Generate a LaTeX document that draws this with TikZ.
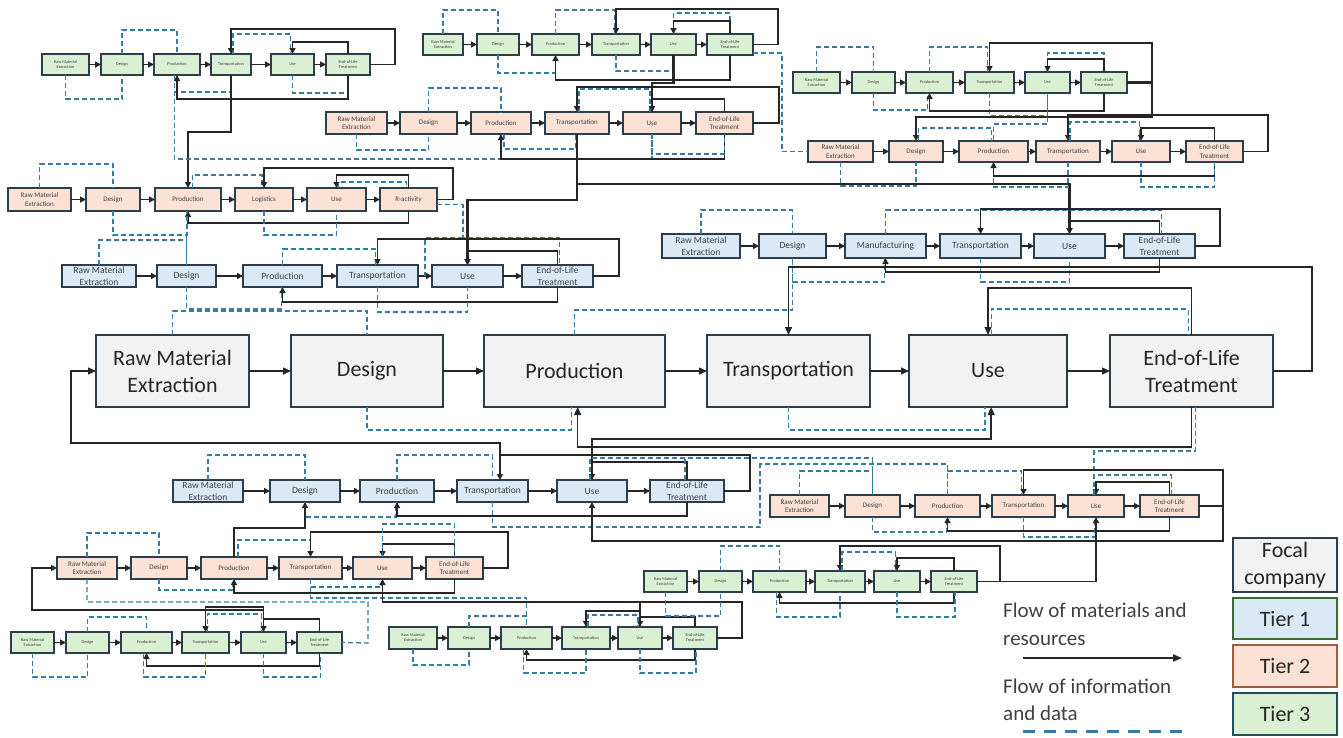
\documentclass[tikz,border=0pt]{standalone}
\usepackage{fontspec}
\setmainfont{Carlito}
\usetikzlibrary{arrows.meta,calc}
\definecolor{focfill}{RGB}{242,242,242}
\definecolor{tonefill}{RGB}{219,232,246}
\definecolor{ttwofill}{RGB}{251,226,213}
\definecolor{tthreefill}{RGB}{217,240,211}
\definecolor{bord}{RGB}{44,62,75}
\definecolor{dcol}{RGB}{52,125,160}
\definecolor{txt}{RGB}{64,64,64}
\definecolor{tonebord}{RGB}{60,110,50}
\definecolor{ttwobord}{RGB}{160,90,60}
\definecolor{tthreebord}{RGB}{30,80,95}
\tikzset{
 box/.style={draw=bord, line width=1.6pt, inner sep=0.5pt, outer sep=0pt, align=center, text=txt},
 tthree/.style={box, fill=tthreefill, font=\fontsize{4.3}{5}\selectfont, line width=1.4pt},
 ttwo/.style={box, fill=ttwofill, font=\fontsize{7}{8.5}\selectfont},
 tone/.style={box, fill=tonefill, font=\fontsize{9.5}{11.5}\selectfont},
 foc/.style={box, fill=focfill, font=\fontsize{22}{27}\selectfont, text=black!85, line width=1.8pt},
 ml/.style={draw=black!85, line width=1.4pt},
 mt/.style={draw=black!85, line width=2.2pt},
 tip/.style={-{Triangle[length=6pt,width=6pt]}},
 bigtip/.style={-{Triangle[length=8pt,width=7pt]}},
 dl/.style={draw=dcol, line width=1.3pt, dash pattern=on 5pt off 3pt},
}
\newcommand{\bx}[7]{\node[#2, minimum width={#4-#3}, minimum height={#6-#5}] (#1) at ({(#3+#4)/2},{(#5+#6)/2}) {#7};}
\newcommand{\chain}[6][tip]{%
 \foreach \n/\xa/\xb/\lab in {#6} {\bx{#2\n}{#3}{\xa}{\xb}{#4}{#5}{\lab}}
 \foreach \i/\j in {1/2,2/3,3/4,4/5,5/6} {\draw[ml,#1] (#2\i) -- (#2\j);}
}
\newcommand{\hv}[4][]{\draw[#1] (#2) -- (#2 |- 0,#4) -| (#3);}
\begin{document}
\begin{tikzpicture}[x=1pt,y=-1pt]
\useasboundingbox (0,0) rectangle (1343,737);
\fill[white] (0,0) rectangle (1343,737);

% ---------------- boxes ----------------
\chain{a}{tthree}{54}{75}{1/42/89/{Raw Material\\Extraction},2/101/143/Design,3/154/200/Production,4/211/251/Transportation,5/271/314/Use,6/326/370/{End-of-Life\\Treatment}}
\chain{b}{tthree}{34}{55}{1/423/463/{Raw Material\\Extraction},2/477/519/Design,3/532/579/Production,4/592/640/Transportation,5/651/696/Use,6/707/753/{End-of-Life\\Treatment}}
\chain{e}{tthree}{72}{93}{1/793/840/{Raw Material\\Extraction},2/852/895/Design,3/906/953/Production,4/965/1014/Transportation,5/1025/1070/Use,6/1081/1127/{End-of-Life\\Treatment}}
\chain{d}{ttwo}{112}{134}{1/326/387/{Raw Material\\Extraction},2/400/457/Design,3/471/531/Production,4/545/609/Transportation,5/623/681/Use,6/696/753/{End-of-Life\\Treatment}}
\chain{f}{ttwo}{141}{162}{1/808/873/{Raw Material\\Extraction},2/889/943/Design,3/959/1028/Production,4/1036/1100/Transportation,5/1112/1170/Use,6/1186/1243/{End-of-Life\\Treatment}}
\chain{c}{ttwo}{188}{211}{1/8/71/{Raw Material\\Extraction},2/86/140/Design,3/155/221/Production,4/235/293/Logistics,5/307/366/Use,6/380/437/R-activity}
\chain{g}{tone}{265}{287}{1/62/136/{Raw Material\\Extraction},2/157/216/Design,3/243/322/Production,4/337/418/Transportation,5/432/503/Use,6/522/593/{End-of-Life\\Treatment}}
\chain{h}{tone}{234}{258}{1/662/740/{Raw Material\\Extraction},2/759/826/Design,3/845/926/Manufacturing,4/940/1021/Transportation,5/1034/1105/Use,6/1124/1195/{End-of-Life\\Treatment}}
\chain[bigtip]{F}{foc}{335}{407}{1/96/249/{Raw Material\\Extraction},2/291/443/Design,3/484/665/Production,4/707/870/Transportation,5/909/1067/Use,6/1110/1273/{End-of-Life\\Treatment}}
\chain{i}{tone}{480}{502}{1/173/243/{Raw Material\\Extraction},2/270/340/Design,3/360/434/Production,4/457/528/Transportation,5/557/627/Use,6/650/724/{End-of-Life\\Treatment}}
\chain{j}{ttwo}{495}{517}{1/770/829/{Raw Material\\Extraction},2/845/900/Design,3/915/980/Production,4/992/1055/Transportation,5/1068/1124/Use,6/1140/1199/{End-of-Life\\Treatment}}
\chain{k}{ttwo}{557}{579}{1/57/117/{Raw Material\\Extraction},2/131/187/Design,3/201/267/Production,4/279/342/Transportation,5/353/412/Use,6/426/483/{End-of-Life\\Treatment}}
\chain{l}{tthree}{632}{653}{1/11/54/{Raw Material\\Extraction},2/66/109/Design,3/121/172/Production,4/182/229/Transportation,5/241/286/Use,6/297/342/{End-of-Life\\Treatment}}
\chain{m}{tthree}{627}{649}{1/389/437/{Raw Material\\Extraction},2/448/490/Design,3/501/552/Production,4/562/610/Transportation,5/618/662/Use,6/673/717/{End-of-Life\\Treatment}}
\chain{n}{tthree}{571}{592}{1/644/687/{Raw Material\\Extraction},2/699/742/Design,3/753/806/Production,4/815/865/Transportation,5/874/920/Use,6/931/977/{End-of-Life\\Treatment}}

% ---------------- T3a ----------------
\hv[dl]{a1.south}{a2.south}{99}
\hv[dl]{a2.north}{a3.north}{30}
\hv[dl]{a3.255}{a4.south}{92}
\hv[dl]{a4.80}{a5.100}{34}
\hv[dl]{a5.south}{a6.south}{93}
\draw[ml,tip] (a6.north) -- (a6.north |- 0,42) -| (a5.north);
\draw[ml,tip] (a6.east) -| (395,29) -| (a4.north);
\draw[ml,tip] (a6.south) -- (a6.south |- 0,99) -| (a3.south);
\draw[mt,tip] (a4.south) -- (a4.south |- 0,132) -| (c3.north);
\draw[dl] (a3.255) -- (a3.255 |- 0,159) -| (d5.south);

% ---------------- T3b ----------------
\hv[dl]{b1.north}{b2.north}{10}
\hv[dl]{b2.south}{b3.south}{73}
\hv[dl]{b3.north}{b4.100}{10}
\draw[ml,tip] (b6.east) -| (778,9) -| (b4.north);
\hv[dl]{b5.north}{b6.north}{13}
\draw[ml,tip] (b6.north) -- (b6.north |- 0,21) -| (b5.north);
\hv[dl]{b4.south}{b5.south}{71}
\draw[ml,tip] (b6.south) -- (b6.south |- 0,80) -| (b3.south);
\draw[mt,tip] (b5.south) -- (b5.south |- 0,83) -| (d5.north);
\draw[dl] (b6.-20) -| (782,151) |- (f1.west);

% ---------------- T2a ----------------
\hv[dl]{d1.south}{d2.south}{150}
\hv[dl]{d2.north}{d3.north}{88}
\hv[dl]{d4.80}{d5.100}{89}
\draw[ml,tip] (d6.east) -| (779,87) -| (d4.north);
\draw[ml,tip] (d6.north) -- (d6.north |- 0,99) -| (d5.north);
\hv[dl]{d3.285}{d4.265}{149}
\draw[ml,tip] (d6.south) -- (d6.south |- 0,159) -| (d3.south);
\hv[dl]{d5.south}{d6.south}{154}
\draw[mt,tip] (d4.south) -- (d4.south |- 0,184) -| (h5.north);
\draw[mt,tip] (d4.south) -- (d4.south |- 0,200) -| (g5.north);

% ---------------- T3c ----------------
\hv[dl]{e1.north}{e2.north}{47}
\hv[dl]{e2.south}{e3.260}{110}
\hv[dl]{e3.north}{e4.100}{47}
\draw[ml,tip] (e6.east) -| (1152,43) -| (e4.north);
\hv[dl]{e5.north}{e6.north}{53}
\draw[ml,tip] (e6.north) -- (e6.north |- 0,59) -| (e5.north);
\hv[dl]{e4.south}{e5.south}{116}
\draw[ml,tip] (e6.south) -- (e6.south |- 0,111) -| (e3.south);
\draw[mt,tip] (e6.east) -| (1152,117) -| (f2.north);
\draw[dl] (e5.south) -- (e5.south |- 0,124) -| (f3.north);

% ---------------- T2b ----------------
\hv[dl]{f2.75}{f3.100}{128}
\draw[ml,tip] (f6.east) -| (1268,115) -| (f4.north);
\hv[dl]{f4.80}{f5.100}{122}
\draw[ml,tip] (f6.north) -- (f6.north |- 0,128) -| (f5.north);
\hv[dl]{f1.south}{f2.south}{186}
\hv[dl]{f3.south}{f4.south}{187}
\draw[ml,tip] (f6.south) -- (f6.south |- 0,176) -| (f3.south);
\hv[dl]{f5.south}{f6.south}{187}

% ---------------- T2c ----------------
\hv[dl]{c1.north}{c2.north}{164}
\hv[dl]{c3.70}{c4.100}{175}
\draw[ml,tip] (c6.east) -| (453,168) -| (c4.north);
\draw[ml,tip] (c6.north) -- (c6.north |- 0,175) -| (c5.north);
\hv[dl]{c5.80}{c6.100}{182}
\draw[ml,tip] (c6.south) -- (c6.south |- 0,223) -| (c3.south);
\hv[dl]{c2.south}{c3.265}{235}
\hv[dl]{c4.south}{c5.south}{235}
\coordinate (g45) at ($(g4.east)!.5!(g5.west)$);
\draw[dl] (c6.-10) -| (463,238) -| (g6.80);
\draw[dl] (463,238) -| (g45);

% ---------------- T1a ----------------
\draw[dl] (g1.north) -- (g1.north |- 0,240) -| (g2.north);
\draw[dl] (g2.north) -- (g2.north |- 0,235);
\hv[dl]{g3.north}{g4.100}{249}
\draw[ml,tip] (g6.east) -| (619,239) -| (g4.north);
\draw[ml,tip] (g6.north) -- (g6.north |- 0,251) -| (g5.north);
\draw[ml,tip] (g6.south) -- (g6.south |- 0,302) -| (g3.south);
\hv[dl]{g4.south}{g5.south}{312}
\hv[dl]{g2.south}{g3.265}{309}
\hv[dl]{F1.north}{F2.north}{311}
\hv[dl]{F3.north}{h2.south}{310}

% ---------------- T1b ----------------
\hv[dl]{h1.north}{h2.north}{210}
\hv[dl]{h2.south}{h3.265}{282}
\hv[dl]{h3.north}{h6.80}{210}
\draw[ml,tip] (h6.east) -| (1220,209) -| (h4.north);
\draw[ml,tip] (h6.north) -- (h6.north |- 0,221) -| (h5.north);
\hv[dl]{h4.south}{h5.south}{282}
\draw[ml,tip] (h6.south) -- (h6.south |- 0,272) -| (h3.south);

% ---------------- Focal ----------------
\draw[ml,bigtip] (F6.east) -| (1312,267) -| (F4.north);
\draw[ml,bigtip] (F6.north) -- (F6.north |- 0,288) -| (F5.north);
\hv[dl]{F5.85}{F6.95}{309}
\hv[dl]{F2.south}{F3.265}{430}
\hv[dl]{F4.south}{F5.265}{430}
\draw[ml,bigtip] (F6.south) -- (F6.south |- 0,447) -| (F3.275);
\draw[ml,tip] (i6.north) -- (i6.north |- 0,462) -| (i5.north);
\draw[ml,bigtip] (i5.north |- 0,462) -- (i5.north |- 0,439) -| (F5.275);
\draw[ml,tip] (i6.east) -| (750,455) -| (i4.56);
\draw[ml,bigtip] (i4.56 |- 0,455) |- (71,443) |- (F1.west);
\draw[dl] (F6.-84) -- (F6.-84 |- 0,451) -| (j5.100);

% ---------------- T1c ----------------
\hv[dl]{i1.north}{i2.north}{455}
\hv[dl]{i3.north}{i4.north}{455}
\draw[dl] (i5.100) -- (i5.100 |- 0,458) -| (j2.north);
\draw[dl] (i6.100) -- (i6.100 |- 0,458);
\hv[dl]{i2.south}{i3.265}{517}
\draw[ml,tip] (i6.south) -- (i6.south |- 0,516) -| (i3.south);
\draw[dl] (i4.south) -- (i4.south |- 0,527) -| (760,464) -| (j3.north);

% ---------------- T2d ----------------
\hv[dl]{j1.north}{j2.north}{471}
\hv[dl]{j3.north}{j4.100}{471}
\draw[ml,tip] (j6.east) -| (1223,470) -| (j4.north);
\draw[ml,tip] (j6.north) -- (j6.north |- 0,482) -| (j5.north);
\hv[dl]{j5.100}{j6.80}{475}
\hv[dl]{j2.south}{j3.265}{532}
\draw[ml,tip] (j6.south) -- (j6.south |- 0,531) -| (j3.south);
\hv[dl]{j4.south}{j5.265}{537}
\draw[ml,tip] (j6.east) -| (1223,541) -| (i5.south);
\draw[ml,tip] (n6.east) -| (j5.south);

% ---------------- T2e ----------------
\hv[dl]{k1.north}{k2.north}{533}
\hv[dl]{k3.70}{k4.north}{540}
\draw[ml,tip] (k6.east) -| (508,532) -| (k4.north);
\draw[ml,tip] (k6.north) -- (k6.north |- 0,544) -| (k5.north);
\hv[dl]{k5.north}{k6.north}{524}
\hv[dl]{k2.south}{k3.265}{590}
\draw[ml,tip] (k6.south) -- (k6.south |- 0,593) -| (k3.south);
\hv[dl]{k4.south}{k5.265}{587}
\draw[dl] (k4.south) -- (k4.south |- 0,598) -| (m3.north);
\draw[mt,tip] (k3.north) -- (k3.north |- 0,528) -| (i2.south);
\draw[dl] (k1.south) -- (k1.south |- 0,602) -| (368,643) -- (l6.east);

% ---------------- T3d ----------------
\hv[dl]{l1.south}{l2.south}{677}
\hv[dl]{l2.north}{l3.north}{617}
\hv[dl]{l4.80}{l5.100}{614}
\draw[ml,tip] (l6.north) -- (l6.north |- 0,619) -| (l5.north);
\draw[ml] (l5.north |- 0,619) -- (l5.north |- 0,607);
\draw[ml,tip] (l5.north |- 0,607) -| (l4.north);
\draw[ml,tip] (l5.north |- 0,610) -| (32,568) -- (k1.west);
\draw[ml,tip] (l6.south) -- (l6.south |- 0,666) -| (l3.south);
\hv[dl]{l3.255}{l4.south}{677}
\hv[dl]{l5.south}{l6.275}{677}

% ---------------- T3e ----------------
\hv[dl]{m1.south}{m2.south}{665}
\hv[dl]{m2.north}{m3.north}{616}
\draw[ml,tip] (m6.east) -| (742,602) -| (k5.south);
\draw[ml,tip] (m5.north |- 0,602) -- (m5.north);
\draw[ml,tip] (m5.north |- 0,611) -| (m4.north);
\draw[ml] (m6.north) |- (m5.north |- 0,617);
\hv[dl]{m4.80}{m5.100}{615}
\draw[ml,tip] (m6.south) -- (m6.south |- 0,660) -| (m3.south);
\hv[dl]{m3.255}{m4.south}{673}
\hv[dl]{m5.south}{m6.275}{673}

% ---------------- T3f ----------------
\hv[dl]{n1.south}{n2.south}{616}
\hv[dl]{n2.north}{n3.north}{546}
\draw[ml,tip] (n6.east) -| (1000,546) -| (n4.north);
\hv[dl]{n4.80}{n5.100}{552}
\draw[ml,tip] (n6.north) -- (n6.north |- 0,558) -| (n5.north);
\draw[ml,tip] (n6.south) -- (n6.south |- 0,603) -| (n3.south);
\hv[dl]{n3.255}{n4.south}{617}
\hv[dl]{n5.south}{n6.275}{617}

% ---------------- legend ----------------
\bx{lf}{foc}{1233}{1337}{538}{592}{Focal\\company}
\bx{lt1}{box,fill=tonefill,draw=tonebord,font=\fontsize{22}{26}\selectfont,text=black!85}{1233}{1337}{598}{639}{Tier 1}
\bx{lt2}{box,fill=ttwofill,draw=ttwobord,font=\fontsize{22}{26}\selectfont,text=black!85}{1233}{1337}{645}{687}{Tier 2}
\bx{lt3}{box,fill=tthreefill,draw=tthreebord,font=\fontsize{22}{26}\selectfont,text=black!85}{1233}{1337}{693}{735}{Tier 3}
\node[anchor=west, align=left, inner sep=0, font=\fontsize{21}{28}\selectfont, text=black!75] (lm) at (1003,624) {Flow of materials and\\resources};
\node[anchor=west, align=left, inner sep=0, font=\fontsize{21}{27}\selectfont, text=black!75] (li) at (1003,700) {Flow of information\\and data};
\coordinate (la1) at (1023,658);
\coordinate (la2) at (1182,658);
\coordinate (ld1) at (1023,731);
\coordinate (ld2) at (1182,731);
\draw[draw=black!85, line width=2pt, -{Triangle[length=9pt,width=7pt]}] (la1) -- (la2);
\draw[draw=dcol, line width=3pt, dash pattern=on 12pt off 9pt] (ld1) -- (ld2);
\end{tikzpicture}
\end{document}
